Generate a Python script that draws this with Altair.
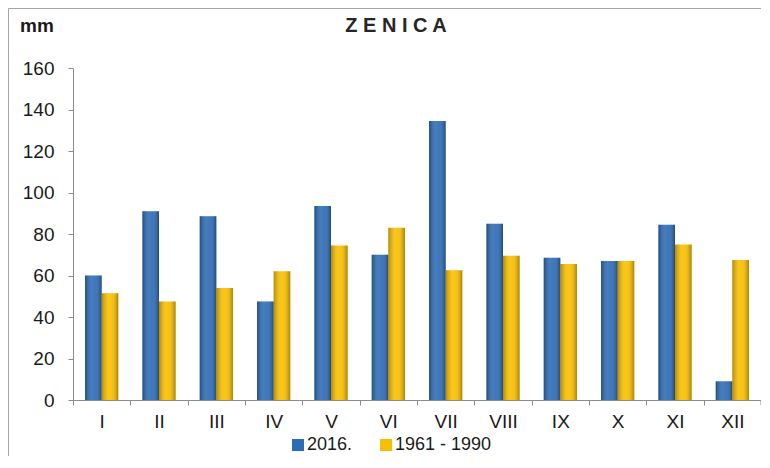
import altair as alt
import pandas as pd

months = ["I", "II", "III", "IV", "V", "VI", "VII", "VIII", "IX", "X", "XI", "XII"]
series_names = ["2016.", "1961 - 1990"]
values_2016 = [60, 91, 88.5, 47.5, 93.5, 70, 134.5, 85, 68.5, 67, 84.5, 9]
values_1961_1990 = [51.5, 47.5, 54, 62, 74.5, 83, 62.5, 69.5, 65.5, 67, 75, 67.5]
y_ticks = [0, 20, 40, 60, 80, 100, 120, 140, 160]
colors = ["#2d6bb5", "#f8bf00"]

rows = []
for m, a, b in zip(months, values_2016, values_1961_1990):
    rows.append({"month": m, "series": series_names[0], "value": a})
    rows.append({"month": m, "series": series_names[1], "value": b})
df = pd.DataFrame(rows)

W, H = 688, 332
FONT = "Liberation Sans"
step = W / len(months)

x_enc = alt.X(
    "month:N",
    sort=months,
    scale=alt.Scale(paddingInner=0.42, paddingOuter=0.21),
    axis=alt.Axis(
        title=None,
        labelAngle=0,
        labelFontSize=19,
        labelFont=FONT,
        labelColor="#1a1a1a",
        labelPadding=7,
        tickSize=5,
        tickColor="#8c8c8c",
        domainColor="#8c8c8c",
        tickOffset=-step / 2,
        labelOffset=step / 2,
        grid=False,
    ),
)
y_enc = alt.Y(
    "value:Q",
    scale=alt.Scale(domain=[0, 160], nice=False),
    axis=alt.Axis(
        title=None,
        values=y_ticks,
        labelFontSize=19,
        labelFont=FONT,
        labelColor="#1a1a1a",
        labelPadding=14,
        tickSize=5,
        tickColor="#8c8c8c",
        domainColor="#8c8c8c",
        grid=False,
    ),
)
xoff = alt.XOffset("series:N", sort=series_names)

bars = alt.Chart(df).mark_bar().encode(
    x=x_enc,
    y=y_enc,
    xOffset=xoff,
    color=alt.Color(
        "series:N",
        sort=series_names,
        scale=alt.Scale(domain=series_names, range=colors),
        legend=alt.Legend(
            title=None,
            orient="none",
            legendX=216,
            legendY=368,
            direction="horizontal",
            symbolType="square",
            symbolSize=144,
            symbolStrokeWidth=0,
            labelFontSize=18,
            labelFont=FONT,
            labelColor="#1a1a1a",
            labelOffset=0,
            columnPadding=24,
            padding=0,
        ),
    ),
)

shade = alt.Chart(df).mark_bar(
    fill=alt.Gradient(
        gradient="linear",
        x1=0, x2=1, y1=0, y2=0,
        stops=[
            alt.GradientStop(offset=0, color="rgba(0,0,0,0.28)"),
            alt.GradientStop(offset=0.4, color="rgba(255,255,255,0.12)"),
            alt.GradientStop(offset=0.6, color="rgba(255,255,255,0.08)"),
            alt.GradientStop(offset=1, color="rgba(0,0,0,0.32)"),
        ],
    )
).encode(x=x_enc, y=y_enc, xOffset=xoff)

one = pd.DataFrame({"k": [0]})
end_tick = alt.Chart(one).mark_rule(color="#8c8c8c").encode(
    x=alt.value(W), y=alt.value(H), y2=alt.value(H + 5)
)
frame_top = alt.Chart(one).mark_rule(color="#a6a6a6").encode(
    x=alt.value(-64.5), x2=alt.value(W + 40), y=alt.value(-59.5)
)
frame_left = alt.Chart(one).mark_rule(color="#a6a6a6").encode(
    x=alt.value(-64.5), y=alt.value(-59.5), y2=alt.value(H + 80)
)
title = alt.Chart(one).mark_text(
    text="Z E N I C A", fontSize=20, fontWeight="bold", font=FONT,
    color="#262626", align="center", baseline="alphabetic"
).encode(x=alt.value(323), y=alt.value(-36.5))
unit = alt.Chart(one).mark_text(
    text="mm", fontSize=19, fontWeight="bold", font=FONT,
    color="#1a1a1a", align="left", baseline="alphabetic"
).encode(x=alt.value(-53), y=alt.value(-36))

chart = alt.layer(bars, shade, end_tick, frame_top, frame_left, title, unit).properties(
    width=W,
    height=H,
    autosize=alt.AutoSizeParams(type="none"),
    padding={"left": 65, "top": 60, "right": 0, "bottom": 56},
).configure_view(stroke=None)

chart.save("out.html", embed_options={"renderer": "svg", "actions": False})
